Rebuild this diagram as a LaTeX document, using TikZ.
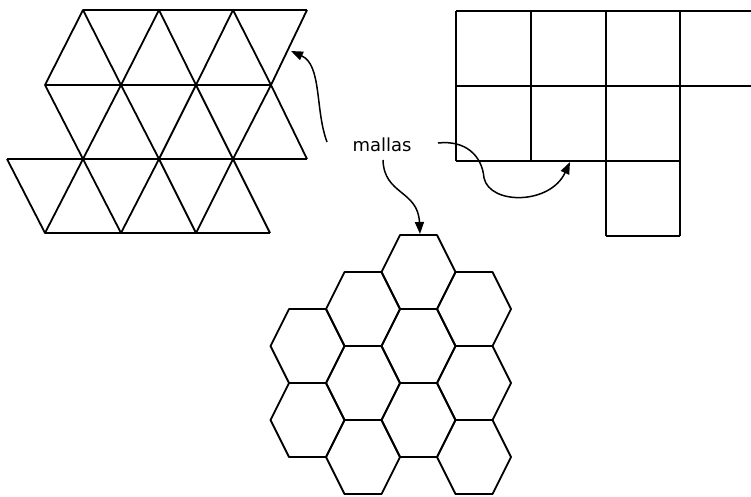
\documentclass[tikz,border=0pt]{standalone}
\usepackage{fontspec}
\setmainfont{DejaVu Sans}
\usetikzlibrary{arrows.meta}

\begin{document}
\begin{tikzpicture}[
    x=1pt, y=-1pt,
    every node/.style={font=\fontsize{18}{20}\selectfont, text=black},
    mesh/.style={draw=black, line width=1.8pt, line join=round},
    callout/.style={-{Triangle[length=12pt, width=9pt]}, draw=black, line width=1.5pt},
    tag/.style={inner sep=1pt}
  ]
    \useasboundingbox (0,0) rectangle (751,496);

    % triangular mesh
    \draw[mesh] (83,10) -- (307,10);
    \draw[mesh] (45,85) -- (271,85);
    \draw[mesh] (7,159) -- (307,159);
    \draw[mesh] (45,233) -- (270,233);
    \draw[mesh] (45,85) -- (83,10) -- (121,85) -- (159,10) -- (196,85) -- (233,10) -- (271,85) -- (307,10);
    \draw[mesh] (45,85) -- (83,159) -- (121,85) -- (159,159) -- (196,85) -- (233,159) -- (271,85) -- (307,159);
    \draw[mesh] (7,159) -- (45,233) -- (83,159) -- (121,233) -- (159,159) -- (196,233) -- (233,159) -- (270,233);

    % square mesh
    \draw[mesh] (456,11) -- (751,11);
    \draw[mesh] (456,86) -- (751,86);
    \draw[mesh] (456,161) -- (680,161);
    \draw[mesh] (606,236) -- (680,236);
    \draw[mesh] (456,11) -- (456,161);
    \draw[mesh] (531,11) -- (531,161);
    \draw[mesh] (606,11) -- (606,236);
    \draw[mesh] (680,11) -- (680,236);

    % hexagonal mesh
    \draw[mesh] (307.5,346) ++(-18.5,-37) -- ++(37,0) -- ++(18.5,37) -- ++(-18.5,37) -- ++(-37,0) -- ++(-18.5,-37) -- cycle;
    \draw[mesh] (307.5,420) ++(-18.5,-37) -- ++(37,0) -- ++(18.5,37) -- ++(-18.5,37) -- ++(-37,0) -- ++(-18.5,-37) -- cycle;
    \draw[mesh] (363,309) ++(-18.5,-37) -- ++(37,0) -- ++(18.5,37) -- ++(-18.5,37) -- ++(-37,0) -- ++(-18.5,-37) -- cycle;
    \draw[mesh] (363,383) ++(-18.5,-37) -- ++(37,0) -- ++(18.5,37) -- ++(-18.5,37) -- ++(-37,0) -- ++(-18.5,-37) -- cycle;
    \draw[mesh] (363,457) ++(-18.5,-37) -- ++(37,0) -- ++(18.5,37) -- ++(-18.5,37) -- ++(-37,0) -- ++(-18.5,-37) -- cycle;
    \draw[mesh] (418.5,272) ++(-18.5,-37) -- ++(37,0) -- ++(18.5,37) -- ++(-18.5,37) -- ++(-37,0) -- ++(-18.5,-37) -- cycle;
    \draw[mesh] (418.5,346) ++(-18.5,-37) -- ++(37,0) -- ++(18.5,37) -- ++(-18.5,37) -- ++(-37,0) -- ++(-18.5,-37) -- cycle;
    \draw[mesh] (418.5,420) ++(-18.5,-37) -- ++(37,0) -- ++(18.5,37) -- ++(-18.5,37) -- ++(-37,0) -- ++(-18.5,-37) -- cycle;
    \draw[mesh] (474,309) ++(-18.5,-37) -- ++(37,0) -- ++(18.5,37) -- ++(-18.5,37) -- ++(-37,0) -- ++(-18.5,-37) -- cycle;
    \draw[mesh] (474,383) ++(-18.5,-37) -- ++(37,0) -- ++(18.5,37) -- ++(-18.5,37) -- ++(-37,0) -- ++(-18.5,-37) -- cycle;
    \draw[mesh] (474,457) ++(-18.5,-37) -- ++(37,0) -- ++(18.5,37) -- ++(-18.5,37) -- ++(-37,0) -- ++(-18.5,-37) -- cycle;

    % label and callouts
    \node[tag] (mallas) at (382,145) {mallas};

    \coordinate (triFrom) at (327,142);
    \coordinate (triTip) at (291,51);
    \coordinate (sqFrom) at (438,143);
    \coordinate (sqBend) at (484,178);
    \coordinate (sqTip) at (570,162);
    \coordinate (hexFrom) at (383,160);
    \coordinate (hexTip) at (420,234);

    \draw[callout] (triFrom) .. controls (315,110) and (322,65) .. (triTip);
    \draw[callout] (sqFrom) .. controls (465,140) and (482,155) .. (sqBend)
      .. controls (490,205) and (550,205) .. (sqTip);
    \draw[callout] (hexFrom) .. controls (384,195) and (418,190) .. (hexTip);
  \end{tikzpicture}
\end{document}
